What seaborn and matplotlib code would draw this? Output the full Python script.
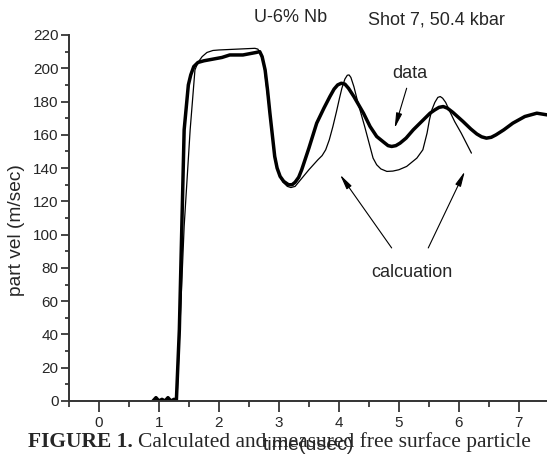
import matplotlib
matplotlib.use("Agg")
import matplotlib.pyplot as plt
import seaborn as sns
import pandas as pd
from matplotlib.ticker import MultipleLocator

# measured free surface velocity
meas_t = [0.9, 0.95, 1.0, 1.05, 1.1, 1.15, 1.2, 1.25, 1.29, 1.34, 1.38, 1.42, 1.49, 1.53,
          1.58, 1.65, 1.75, 1.9, 2.05, 2.18, 2.4, 2.62, 2.68, 2.72, 2.77, 2.81, 2.85,
          2.89, 2.93, 2.97, 3.02, 3.08, 3.16, 3.22, 3.27, 3.33, 3.38, 3.5, 3.63, 3.75,
          3.85, 3.92, 3.98, 4.04, 4.1, 4.16, 4.25, 4.41, 4.52, 4.63, 4.75, 4.82, 4.88,
          4.95, 5.02, 5.12, 5.24, 5.38, 5.52, 5.6, 5.67, 5.74, 5.81, 5.9, 6.07, 6.2,
          6.3, 6.38, 6.46, 6.54, 6.62, 6.75, 6.9, 7.1, 7.3, 7.47]
meas_v = [0, 2, 0, 1, 0, 2, 0, 1, 0, 43, 103, 163, 190, 196,
          201, 203.5, 204.5, 205.5, 206.5, 208, 208, 209.5, 210, 207, 199, 187, 173,
          160, 147, 140, 135, 132, 130, 130, 131.5, 134.5, 139, 152, 167, 176,
          183, 187.5, 190, 191, 190.5, 188, 183, 173, 165, 159, 155.5, 153.5, 153,
          153.5, 155, 158, 163, 168, 173, 175, 176.5, 177, 176, 173.5, 168, 163.5,
          160.5, 158.8, 158, 158.5, 160, 163, 167, 171, 173, 172]

# calculated curve
calc_t = [1.3, 1.35, 1.42, 1.52, 1.6, 1.65, 1.72, 1.8, 1.9, 2.0, 2.3, 2.6, 2.65, 2.7,
          2.75, 2.83, 2.92, 3.0, 3.07, 3.14, 3.2, 3.27, 3.5, 3.65, 3.72, 3.78, 3.84,
          3.9, 3.96, 4.01, 4.05, 4.1, 4.14, 4.17, 4.2, 4.25, 4.32, 4.43, 4.57, 4.63,
          4.7, 4.8, 4.9, 5.0, 5.13, 5.3, 5.4, 5.47, 5.51, 5.55, 5.6, 5.65, 5.69, 5.73,
          5.78, 5.85, 5.93, 6.04, 6.21]
calc_v = [0, 45, 105, 163, 199, 203.5, 207, 209.5, 210.7, 211, 211.5, 212, 211.5, 208,
          202, 178, 150, 136, 131.5, 129, 128.3, 129, 139, 145, 147.5, 151, 157,
          165, 174, 182, 188, 193.5, 195.8, 196, 194.5, 189, 179, 165, 146, 142,
          139.5, 138, 138.2, 139, 141, 146, 151, 161, 169, 175, 179.5, 182.5, 183, 182,
          179.5, 174, 168, 161, 149]

xticks = [0, 1, 2, 3, 4, 5, 6, 7]
yticks = list(range(0, 221, 20))

meas = pd.DataFrame({"t": meas_t, "v": meas_v})
calc = pd.DataFrame({"t": calc_t, "v": calc_v})

sns.set_style("ticks")
plt.rcParams["font.family"] = ["Liberation Sans", "DejaVu Sans"]

fig = plt.figure(figsize=(5.47, 4.57), dpi=100)
ax = fig.add_axes([69 / 547, 1 - 401 / 457, 1 - 69 / 547, (401 - 35) / 457])

sns.lineplot(data=calc, x="t", y="v", ax=ax, color="black", linewidth=0.9,
             sort=False, estimator=None)
sns.lineplot(data=meas, x="t", y="v", ax=ax, color="black", linewidth=2.5,
             sort=False, estimator=None)

ax.set_xlim(-0.5, 7.47)
ax.set_ylim(0, 220)
ax.set_xticks(xticks)
ax.set_yticks(yticks)
ax.xaxis.set_minor_locator(MultipleLocator(0.5))
ax.yaxis.set_minor_locator(MultipleLocator(10))
ax.tick_params(axis="x", which="major", length=8, width=1.2, labelsize=11, pad=3)
ax.tick_params(axis="x", which="minor", length=4.3, width=1.2)
ax.tick_params(axis="y", which="major", length=5.5, width=1.2, labelsize=11, pad=2)
ax.tick_params(axis="y", which="minor", length=3, width=1.2)
for s in ["top", "right"]:
    ax.spines[s].set_visible(False)
for s in ["left", "bottom"]:
    ax.spines[s].set_linewidth(1.4)
    ax.spines[s].set_color("#333333")

ax.set_xlabel("")
ax.set_ylabel("")
fig.text(17 / 547, 1 - 230 / 457, "part vel (m/sec)", rotation=90, fontsize=13.8,
         ha="center", va="center")
fig.text(308 / 547, 1 - 445 / 457, "time(usec)", fontsize=14, ha="center", va="center")

fig.text(291 / 547, 1 - 18 / 457, "U-6% Nb", fontsize=13, ha="center", va="center")
fig.text(436 / 547, 1 - 20 / 457, "Shot 7, 50.4 kbar", fontsize=13, ha="center", va="center")

arrow = dict(arrowstyle="-|>,head_length=0.9,head_width=0.18", color="black",
             lw=0.8, shrinkA=0, shrinkB=0)
ax.text(5.18, 197, "data", fontsize=13, ha="center", va="center")
ax.annotate("", xy=(4.93, 164), xytext=(5.13, 188), arrowprops=arrow)
ax.text(5.21, 77, "calcuation", fontsize=13, ha="center", va="center")
ax.annotate("", xy=(4.02, 136), xytext=(4.88, 92), arrowprops=arrow)
ax.annotate("", xy=(6.1, 138), xytext=(5.49, 92), arrowprops=arrow)

# caption with bold lead
t1 = fig.text(28 / 547, 1 - 447 / 457, "FIGURE 1.", fontsize=15.5, weight="bold",
              family="Liberation Serif", ha="left", va="baseline")
fig.canvas.draw()
bb = t1.get_window_extent()
fig.text(bb.x1 / 547 + 5 / 547, 1 - 447 / 457, "Calculated and measured free surface particle",
         fontsize=15.5, family="Liberation Serif", ha="left", va="baseline")

fig.savefig("out.png", dpi=100)
